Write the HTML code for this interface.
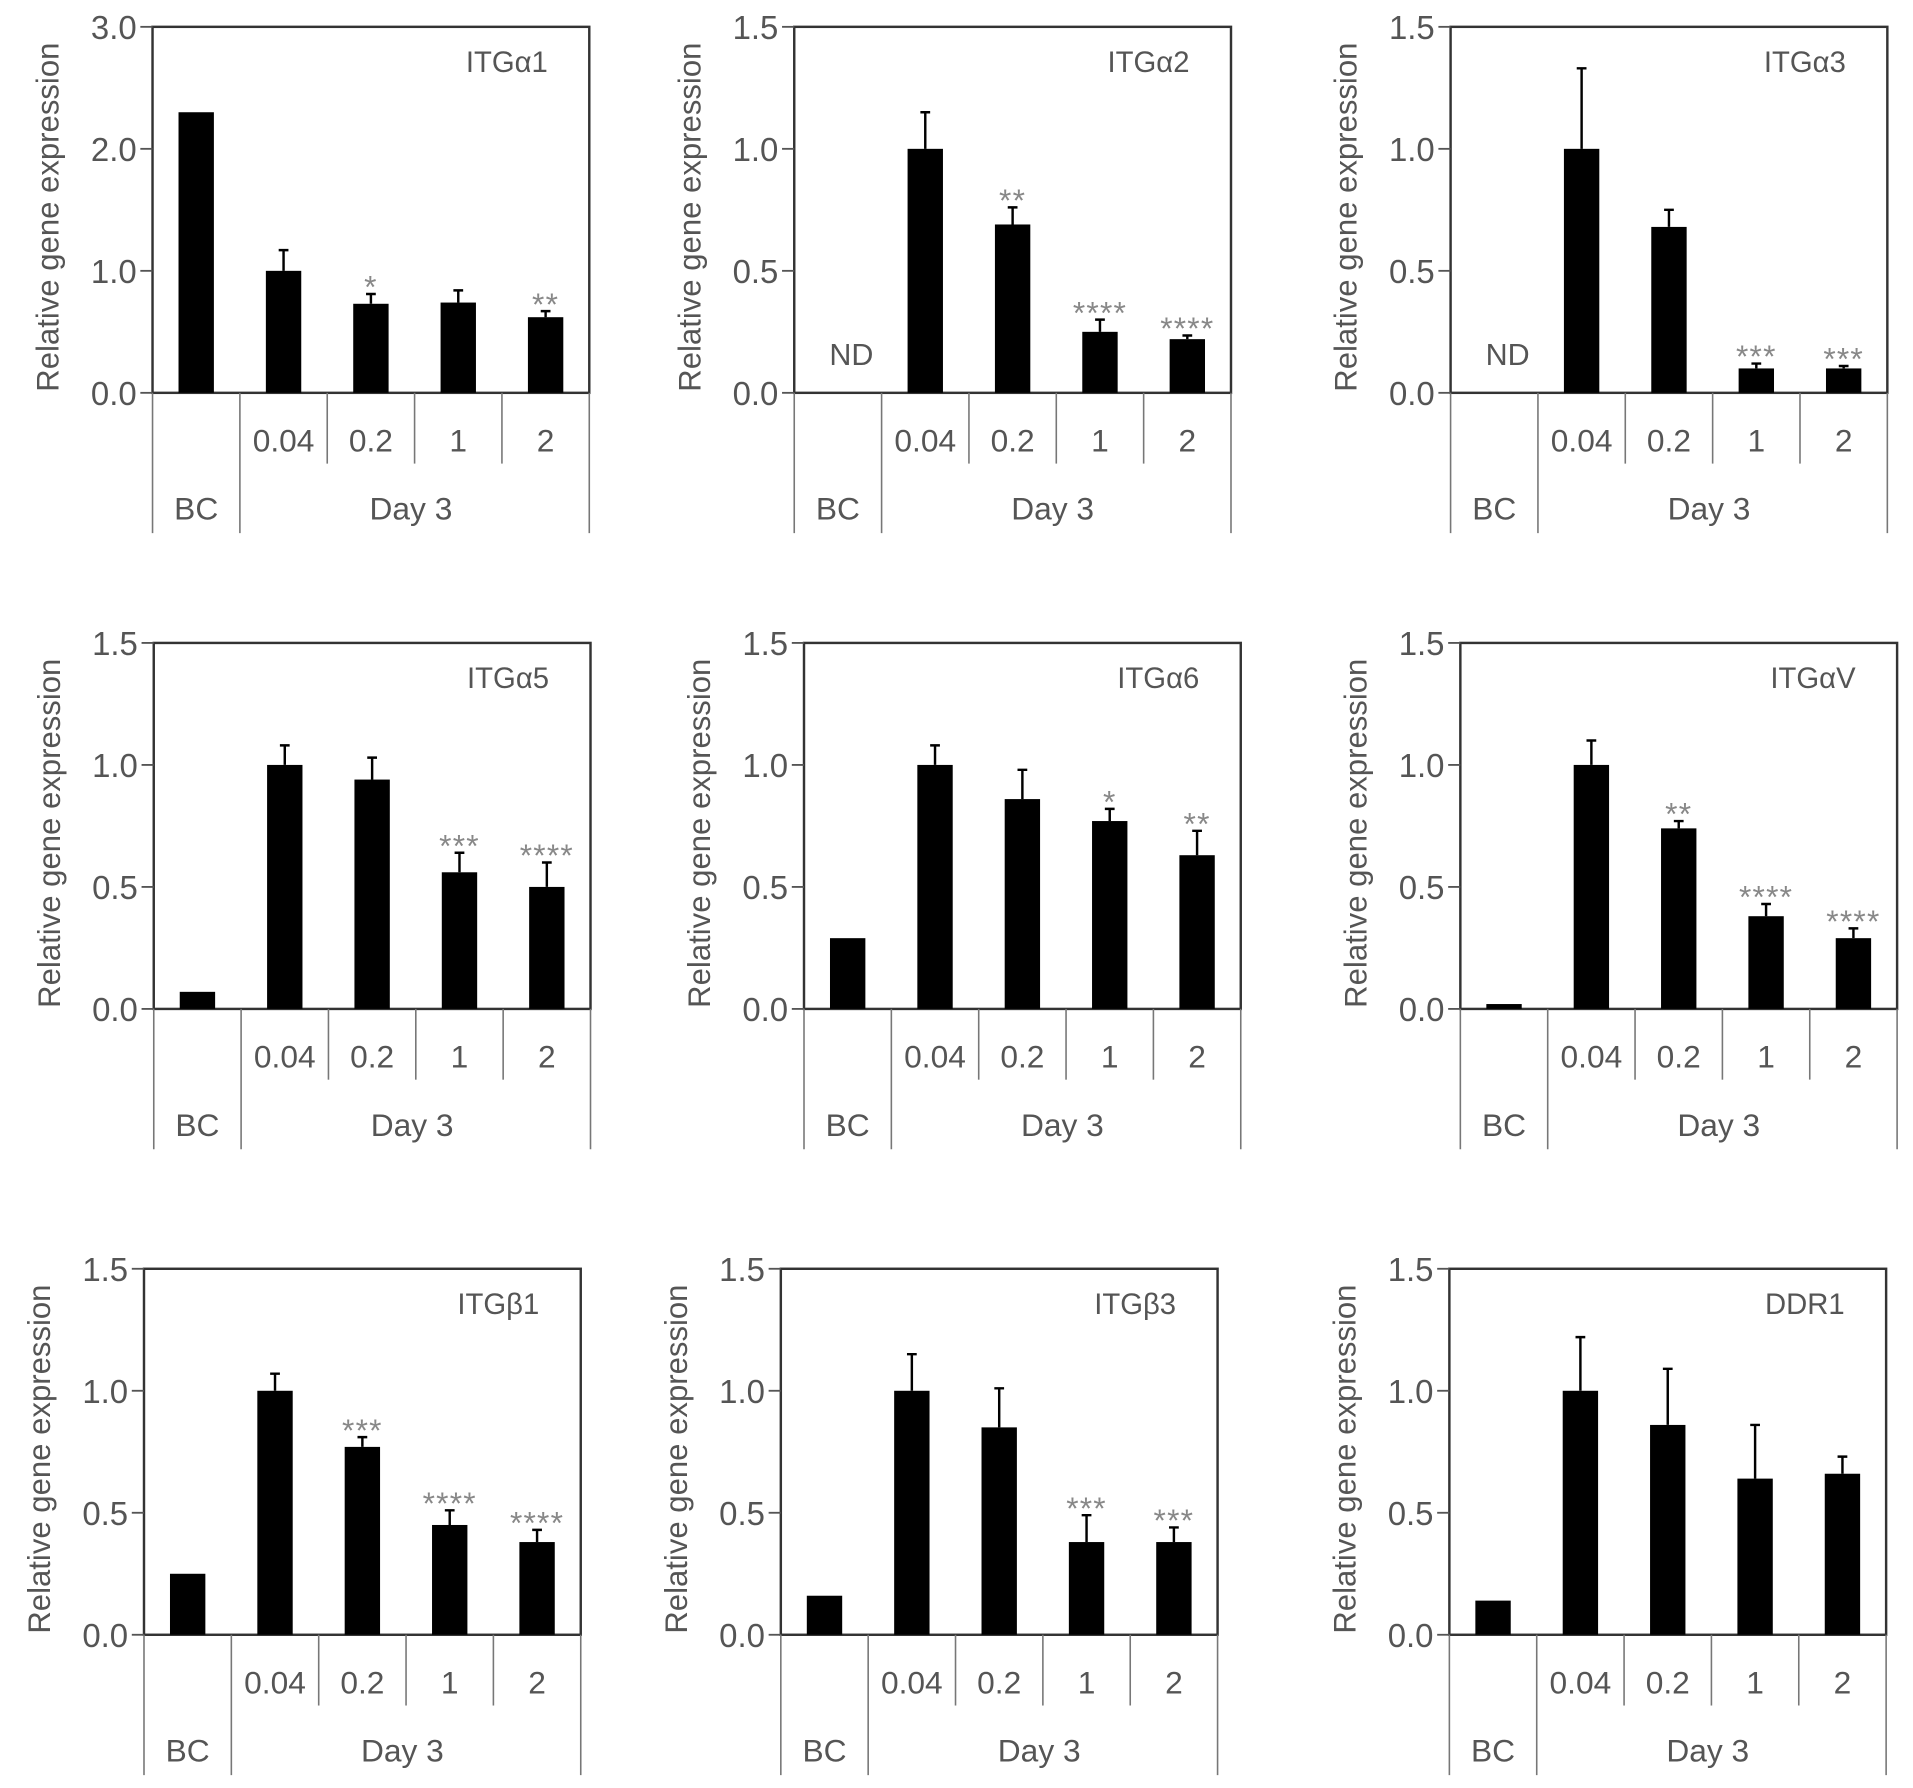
<!DOCTYPE html>
<html><head><meta charset="utf-8"><style>
html,body{margin:0;padding:0;background:#fff;}
svg{display:block;}
text{font-family:"Liberation Sans",sans-serif;fill:#555;}
</style></head><body>
<svg id="fig" width="1913" height="1788" viewBox="0 0 1568 1465.6" xmlns="http://www.w3.org/2000/svg"></svg>
<script>
const panelTitles = ["ITGα1","ITGα2","ITGα3","ITGα5","ITGα6","ITGαV","ITGβ1","ITGβ3","DDR1"];
const panelMax = [3,1.5,1.5,1.5,1.5,1.5,1.5,1.5,1.5];
const categories = ["BC","0.04","0.2","1","2"];
const values = [
 [2.3,1.0,0.73,0.74,0.62],
 [null,1.0,0.69,0.25,0.22],
 [null,1.0,0.68,0.10,0.10],
 [0.07,1.0,0.94,0.56,0.50],
 [0.29,1.0,0.86,0.77,0.63],
 [0.02,1.0,0.74,0.38,0.29],
 [0.25,1.0,0.77,0.45,0.38],
 [0.16,1.0,0.85,0.38,0.38],
 [0.14,1.0,0.86,0.64,0.66]
];
const errors = [
 [0,0.17,0.08,0.10,0.05],
 [0,0.15,0.07,0.05,0.015],
 [0,0.33,0.07,0.02,0.01],
 [0,0.08,0.09,0.08,0.10],
 [0,0.08,0.12,0.05,0.10],
 [0,0.10,0.03,0.05,0.04],
 [0,0.07,0.04,0.06,0.05],
 [0,0.15,0.16,0.11,0.06],
 [0,0.22,0.23,0.22,0.07]
];
const stars = [
 ["","","*","","**"],
 ["","","**","****","****"],
 ["","","","***","***"],
 ["","","","***","****"],
 ["","","","*","**"],
 ["","","**","****","****"],
 ["","","***","****","****"],
 ["","","","***","***"],
 ["","","","",""]
];
const ticks3 = ["0.0","1.0","2.0","3.0"];
const ticks15 = ["0.0","0.5","1.0","1.5"];

const layout = [[125,22],[651,22],[1189,22],[126,527],[659,527],[1197,527],[118,1040],[640,1040],[1188,1040]];
const W = 358, H = 300, slot = W/5, bw = 29;
const NS = "http://www.w3.org/2000/svg";
const svg = document.getElementById('fig');
function mk(tag, attrs, parent, txt){
  const e = document.createElementNS(NS, tag);
  for (const k in attrs) e.setAttribute(k, attrs[k]);
  if (txt !== undefined) e.textContent = txt;
  parent.appendChild(e);
  return e;
}
panelTitles.forEach((title, p) => {
  const [L, T] = layout[p];
  const B = T + H, R = L + W;
  const max = panelMax[p];
  const y = v => B - v / max * H;
  const x = i => L + slot * i + slot / 2;
  const g = mk('g', {}, svg);
  
  
  const fr = mk('rect', {x:L, y:T, width:W, height:H, fill:'none', stroke:'#333', 'stroke-width':2}, g);
  
  
  const tl = max === 3 ? ticks3 : ticks15;
  tl.forEach((t, i) => {
    const v = max * i / (tl.length - 1);
    mk('line', {x1:L-10, x2:L, y1:y(v), y2:y(v), stroke:'#555', 'stroke-width':1.5}, g);
    const tt = mk('text', {x:L-13, y:y(v)+10, 'text-anchor':'end', 'font-size':27}, g, t);
    
    
  });
  const yt = mk('text', {x:0, y:0, 'text-anchor':'middle', 'font-size':25.5, transform:`translate(${L-77},${T+H/2+6}) rotate(-90)`}, g, 'Relative gene expression');
  
  
  const pt = mk('text', {x:R-34, y:T+37, 'text-anchor':'end', 'font-size':24}, g, title);
  
  
  const full = B + 115, mid = B + 58;
  [L, L+slot, R].forEach(xx => mk('line', {x1:xx, x2:xx, y1:B, y2:full, stroke:'#777', 'stroke-width':1.3}, g));
  [L+slot*2, L+slot*3, L+slot*4].forEach(xx => mk('line', {x1:xx, x2:xx, y1:B, y2:mid, stroke:'#777', 'stroke-width':1.3}, g));
  categories.forEach((c, i) => {
    if (i === 0) return;
    const ct = mk('text', {x:x(i), y:B+48, 'text-anchor':'middle', 'font-size':26}, g, c);
    
    
  });
  const bc = mk('text', {x:x(0), y:B+104, 'text-anchor':'middle', 'font-size':26}, g, 'BC');
  
  
  const dl = mk('text', {x:L+slot*3-3, y:B+104, 'text-anchor':'middle', 'font-size':26}, g, 'Day 3');
  
  
  values[p].forEach((v, i) => {
    if (v === null) {
      const nd = mk('text', {x:x(i)+11, y:B-23, 'text-anchor':'middle', 'font-size':25}, g, 'ND');
      
      
      return;
    }
    const r = mk('rect', {x:x(i)-bw/2, y:y(v), width:bw, height:B-y(v), fill:'#000'}, g);
    
    
    const e = errors[p][i];
    if (e > 0) {
      const eb = mk('path', {d:`M${x(i)} ${y(v)} V${y(v+e)} M${x(i)-4} ${y(v+e)} H${x(i)+4}`, stroke:'#000', 'stroke-width':2, fill:'none'}, g);
      
      
    }
    const s = stars[p][i];
    if (s) {
      const st = mk('text', {x:x(i), y:y(v+e)+3, 'text-anchor':'middle', 'font-size':26, 'letter-spacing':'1', style:'fill:#888'}, g, s);
      
      
    }
  });
});
</script>
</body></html>
